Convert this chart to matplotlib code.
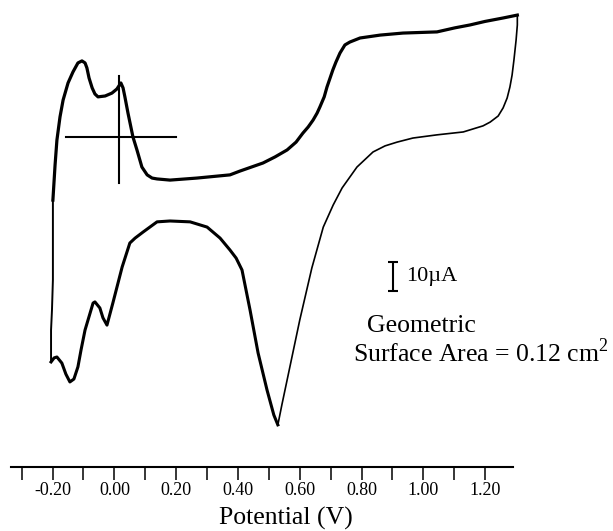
import matplotlib
matplotlib.use("Agg")
import matplotlib.pyplot as plt

plt.rcParams["font.family"] = ["Liberation Serif", "DejaVu Serif"]
plt.rcParams["axes.unicode_minus"] = False
plt.rcParams["mathtext.fontset"] = "custom"
plt.rcParams["mathtext.rm"] = "Liberation Serif"

# potential (V) / current (uA)
# start of the anodic sweep at -0.20 V
start_e = [-0.205, -0.205, -0.202, -0.199, -0.199, -0.199]
start_i = [-38.6, -27.6, -20.7, -10.3, 6.9, 17.2]

# anodic sweep
anodic_e = [-0.199, -0.195, -0.192, -0.186, -0.176, -0.166, -0.150, -0.134, -0.118,
            -0.105, -0.095, -0.089, -0.082, -0.072, -0.063, -0.053, -0.030, -0.008,
            0.008, 0.021, 0.028, 0.034, 0.044, 0.060, 0.073, 0.089, 0.106, 0.122,
            0.138, 0.180, 0.267, 0.374, 0.406, 0.481, 0.520, 0.559, 0.588, 0.610,
            0.627, 0.643, 0.656, 0.665, 0.679, 0.688, 0.698, 0.707, 0.717, 0.730,
            0.746, 0.762, 0.795, 0.860, 0.934, 1.044, 1.102, 1.151, 1.199, 1.258,
            1.304]
anodic_i = [17.2, 24.1, 29.3, 37.9, 45.9, 51.7, 57.6, 61.4, 64.5,
            65.2, 64.5, 62.8, 59.3, 55.9, 53.8, 52.8, 53.1, 54.1,
            55.5, 57.6, 55.9, 52.8, 47.2, 39.0, 34.5, 28.6, 25.9, 24.8,
            24.5, 24.1, 24.8, 25.9, 27.2, 30.0, 32.1, 34.5, 37.2, 40.3,
            42.4, 44.8, 47.2, 49.3, 52.8, 56.2, 59.3, 62.1, 64.8, 67.9,
            70.7, 71.7, 73.1, 74.1, 74.8, 75.2, 76.6, 77.6, 78.8, 80.0,
            81.0]

# cathodic sweep, 1.30 V down to the oxide reduction peak
return_e = [1.304, 1.304, 1.300, 1.293, 1.287, 1.280, 1.271, 1.258, 1.242, 1.216,
            1.193, 1.129, 1.044, 0.966, 0.915, 0.876, 0.837, 0.785, 0.737, 0.708,
            0.676, 0.639, 0.600, 0.561, 0.542, 0.529]
return_i = [81.0, 77.6, 72.4, 65.5, 60.3, 56.2, 52.4, 49.0, 46.2, 44.1,
            42.8, 40.7, 39.7, 38.6, 37.2, 35.9, 33.8, 28.6, 21.4, 15.5,
            7.9, -6.2, -24.1, -43.8, -53.4, -60.3]

# cathodic sweep, reduction peak down to -0.20 V
cathodic_e = [0.529, 0.516, 0.494, 0.465, 0.439, 0.413, 0.394, 0.374, 0.342, 0.300,
              0.245, 0.180, 0.138, 0.093, 0.067, 0.050, 0.025, -0.005, -0.024, -0.037,
              -0.047, -0.063, -0.069, -0.095, -0.108, -0.118, -0.131, -0.144, -0.157,
              -0.170, -0.186, -0.195, -0.205]
cathodic_i = [-60.3, -56.9, -48.3, -35.5, -20.7, -6.9, -2.8, 0.0, 4.1, 7.9,
              9.7, 10.0, 9.7, 6.2, 4.1, 2.4, -5.9, -18.3, -25.9, -23.4,
              -20.0, -17.9, -18.3, -27.6, -34.5, -40.3, -44.5, -45.5, -42.8,
              -39.0, -36.9, -37.2, -38.6]

major_ticks = [-0.2, 0.0, 0.2, 0.4, 0.6, 0.8, 1.0, 1.2]
minor_ticks = [-0.3, -0.1, 0.1, 0.3, 0.5, 0.7, 0.9, 1.1]

fig = plt.figure(figsize=(6.13, 5.31), dpi=100)
ax = fig.add_axes([0, 0, 1, 1])

ax.plot(start_e, start_i, color="black", lw=1.4)
ax.plot(anodic_e, anodic_i, color="black", lw=2.3, solid_joinstyle="round")
ax.plot(return_e, return_i, color="black", lw=1.2)
ax.plot(cathodic_e, cathodic_i, color="black", lw=2.2, solid_joinstyle="round")

# crosshair marker
ax.plot([-0.157, 0.199], [39.0, 39.0], color="black", lw=1.5)
ax.plot([0.015, 0.015], [23.1, 60.0], color="black", lw=1.5)

# 10 uA scale bar
ax.errorbar([0.901], [-9.3], yerr=[[5.0], [5.0]], fmt="none", ecolor="black",
            elinewidth=1.5, capsize=3.5, capthick=1.5)
ax.text(0.943, -9.3, "10µA", fontsize=16, va="center", ha="left")
ax.text(0.817, -28.3, "Geometric", fontsize=18.5, va="baseline", ha="left")
ax.text(0.772, -38.6, "Surface Area = 0.12 cm$^2$", fontsize=18.5,
        va="baseline", ha="left")

ax.set_xlim(-0.3702, 1.6136)
ax.set_ylim(-96.9, 86.2)

for side in ["top", "left", "right"]:
    ax.spines[side].set_visible(False)
ax.spines["bottom"].set_position(("data", -74.7))
ax.spines["bottom"].set_bounds(-0.335, 1.289)
ax.spines["bottom"].set_linewidth(1.5)

ax.set_xticks(major_ticks)
ax.set_xticklabels([f"{t:.2f}" for t in major_ticks])
ax.set_xticks(minor_ticks, minor=True)
ax.tick_params(axis="x", which="both", direction="out", length=9, width=1.1, pad=2,
               labelsize=13)
ax.set_yticks([])
ax.set_xlabel("Potential (V)", fontsize=18.5, labelpad=5.5)
ax.xaxis.label.set_x(0.466)
ax.patch.set_visible(False)

fig.savefig("out.png", dpi=100)
